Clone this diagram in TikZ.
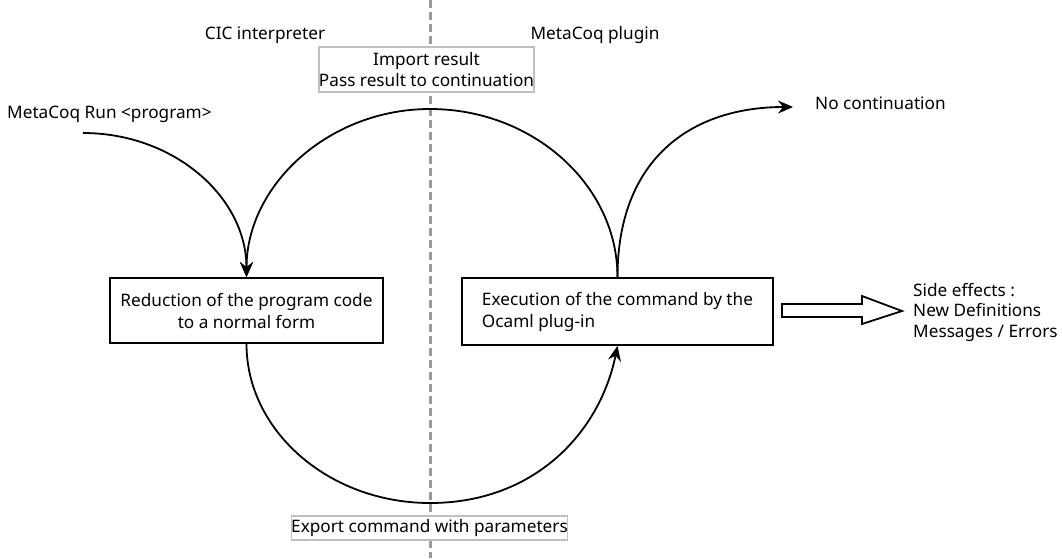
\documentclass[tikz,border=0pt]{standalone}
\usepackage{fontspec}
\setmainfont{Noto Sans}
\usetikzlibrary{arrows.meta}
\tikzset{
  conn/.style={line width=1.8pt, -{Stealth[length=15pt,width=13pt,inset=5pt]}},
  boxnode/.style={draw, line width=1.8pt, inner sep=0pt, font=\fontsize{17.2}{22}\selectfont},
  lblnode/.style={draw=black!25, line width=1.1pt, inner sep=0pt, fill=white, align=center, font=\fontsize{17.2}{20.5}\selectfont},
  txt/.style={inner sep=0pt, font=\fontsize{17.2}{20.5}\selectfont},
  divider/.style={draw=black!40, line width=3pt, dash pattern=on 8pt off 4pt},
}
\begin{document}
\begin{tikzpicture}[x=1pt,y=-1pt]
\useasboundingbox (0,0) rectangle (1062,558);
% divider
\coordinate (dtop) at (430,0);
\coordinate (dbot) at (430,558);
\draw[divider] (dtop) -- (dbot);
% headings
\node[txt] (cic) at (265,35) {CIC interpreter};
\node[txt] (mcp) at (595,35) {MetaCoq plugin};
% boxes
\node[boxnode, minimum width=273pt, minimum height=65pt, align=center] (red) at (246.5,310.5) {Reduction of the program code\\to a normal form};
\node[boxnode, minimum width=311pt, minimum height=67pt, align=left] (rex) at (617.5,311.5) {Execution of the command by the\\Ocaml plug-in};
% free texts
\node[txt, anchor=base west] (run) at (7,118) {MetaCoq Run <program>};
\node[txt, anchor=base west] (noc) at (815,109) {No continuation};
\node[txt, anchor=north west, align=left] (side) at (913,283) {Side effects :\\New Definitions\\Messages / Errors};
% coordinates
\coordinate (runstart) at (83,133);
\coordinate (topc) at (430,109);
\coordinate (botc) at (430,503);
\coordinate (noctip) at (793,107);
% connectors
\draw[conn] (runstart) .. controls (174,133) and (246.5,197) .. (red.north);
\draw[conn] (rex.north) .. controls (617.5,185) and (533,109) .. (topc) .. controls (329,109) and (246.5,185) .. (red.north);
\draw[conn] (red.south) .. controls (246.5,431) and (329,503) .. (botc) .. controls (535,503) and (600,432) .. (rex.south);
\draw[conn] (rex.north) .. controls (617.5,160) and (690,107) .. (noctip);
% labels on the loop
\node[lblnode, minimum width=213pt, minimum height=45pt] (imp) at (426.5,69.5) {Import result\\Pass result to continuation};
\node[lblnode, minimum width=275pt, minimum height=24pt] (exp) at (429.5,528) {Export command with parameters};
% block arrow
\draw[line width=1.8pt, line join=miter] (782,304) -- (862,304) -- (862,296) -- (902,311) -- (862,324) -- (862,317) -- (782,317) -- cycle;
\end{tikzpicture}
\end{document}
